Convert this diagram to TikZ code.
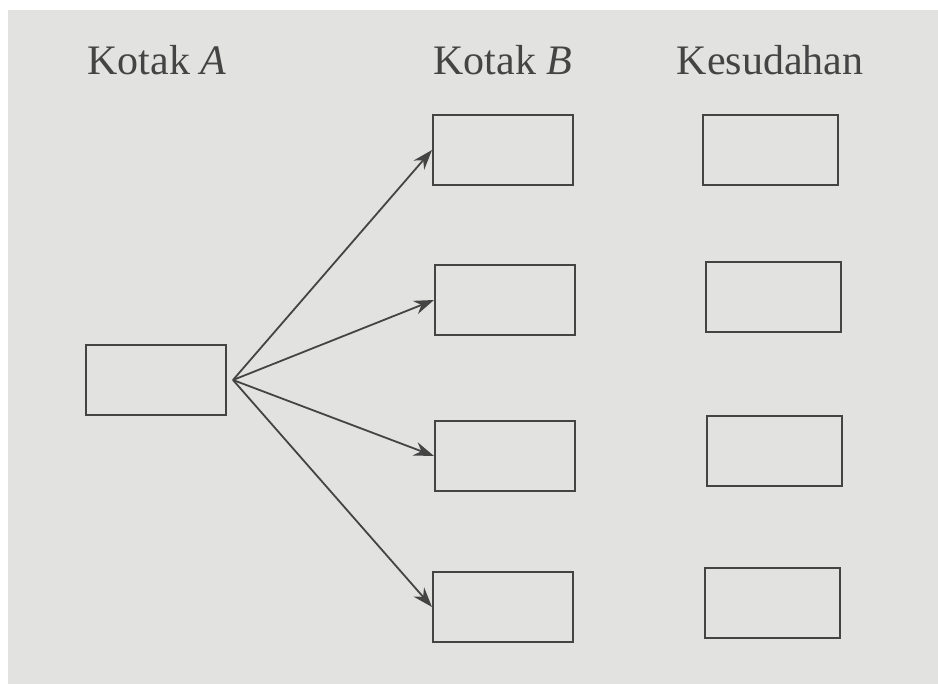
\documentclass[tikz,border=0pt]{standalone}
\usepackage{fontspec}
\setmainfont{Liberation Serif}
\usetikzlibrary{arrows.meta,positioning}
\definecolor{paper}{RGB}{226,226,224}
\definecolor{ink}{RGB}{68,68,68}

\begin{document}
\begin{tikzpicture}[x=0.5pt,y=-0.5pt,->,>={Stealth[length=10pt,width=7pt]},line width=0.9pt,draw=ink]
\tikzstyle{kotak}=[draw=ink,line width=1pt,minimum width=70pt,minimum height=35pt,inner sep=0pt]
\tikzstyle{akhir}=[kotak,minimum width=67.5pt]
\tikzstyle{tajuk}=[text=ink,anchor=base,inner sep=0pt,font=\fontsize{21}{25}\selectfont]
\path[use as bounding box] (0,0) rectangle (938,684);
\fill[paper,-] (8,10) rectangle (938,684);
% tajuk
\node[tajuk] (tA) at (157,75) {Kotak \textit{A}};
\node[tajuk] (tB) at (503,75) {Kotak \textit{B}};
\node[tajuk] (tK) at (770,75) {Kesudahan};
% kotak
\node[kotak] (A) at (156,380) {};
\node[kotak] (B1) at (503,150) {};
\node[kotak] (B2) at (505,300) {};
\node[kotak] (B3) at (505,456) {};
\node[kotak] (B4) at (503,607) {};
\node[akhir] (K1) at (770,150) {};
\node[akhir] (K2) at (773,297) {};
\node[akhir] (K3) at (774,451) {};
\node[akhir] (K4) at (772,603) {};
\coordinate (fan) at ([xshift=3pt]A.east);
\path (fan) edge (B1.west)
            edge (B2.west)
            edge (B3.west)
            edge (B4.west);
\end{tikzpicture}
\end{document}
